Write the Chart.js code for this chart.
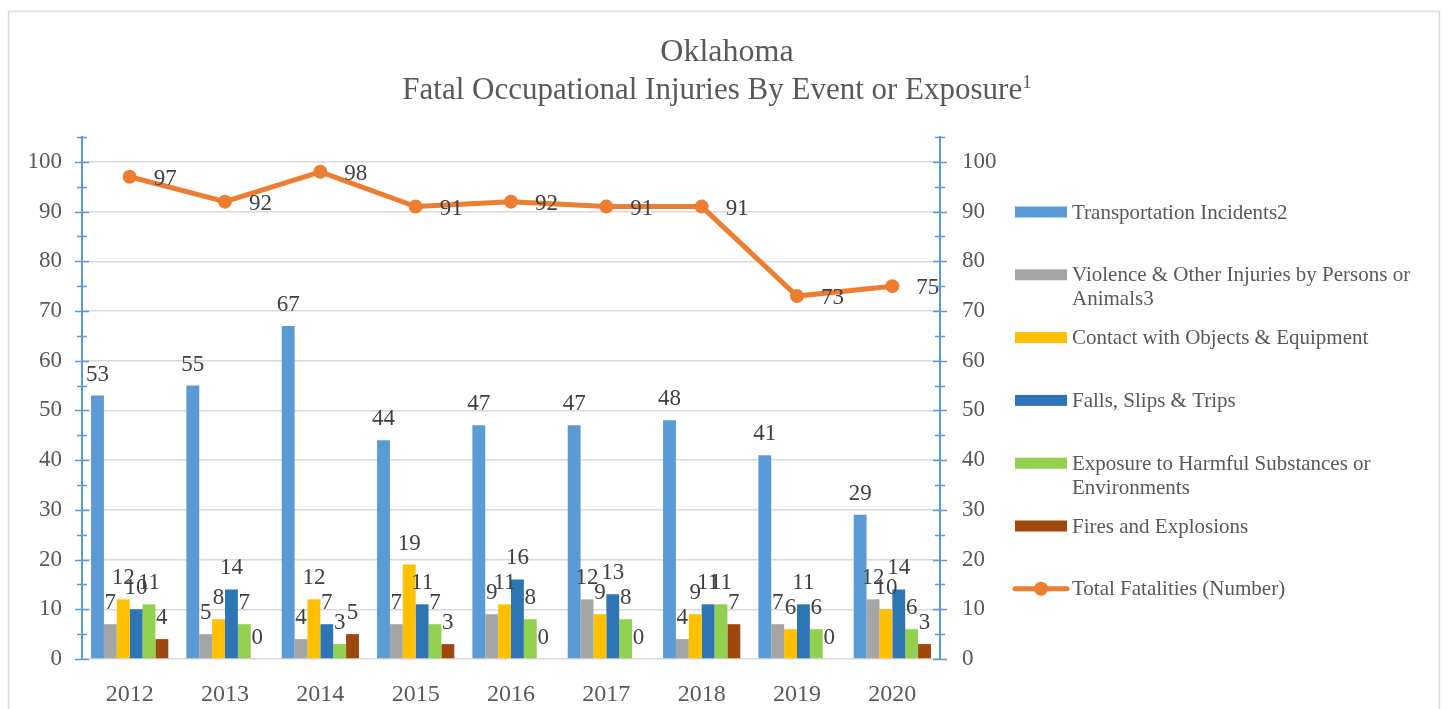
<!DOCTYPE html>
<html>
<head>
<meta charset="utf-8">
<script src="https://cdn.jsdelivr.net/npm/chart.js@4.4.1/dist/chart.umd.min.js"></script>
<style>
  html, body { margin: 0; padding: 0; background: #fff; }
</style>
</head>
<body>
<canvas id="chart" width="1447" height="709"></canvas>
<script>
// Oklahoma fatal occupational injuries, grouped bars + total line

const years = ['2012', '2013', '2014', '2015', '2016', '2017', '2018', '2019', '2020'];

const transportation = [53, 55, 67, 44, 47, 47, 48, 41, 29];
const violence       = [7, 5, 4, 7, 9, 12, 4, 7, 12];
const contact        = [12, 8, 12, 19, 11, 9, 9, 6, 10];
const falls          = [10, 14, 7, 11, 16, 13, 11, 11, 14];
const exposure       = [11, 7, 3, 7, 8, 8, 11, 6, 6];
const fires          = [4, 0, 5, 3, 0, 0, 7, 0, 3];
const totals         = [97, 92, 98, 91, 92, 91, 91, 73, 75];

const seriesNames = [
  'Transportation Incidents2',
  'Violence & Other Injuries by Persons or Animals3',
  'Contact with Objects & Equipment',
  'Falls, Slips & Trips',
  'Exposure to Harmful Substances or Environments',
  'Fires and Explosions',
  'Total Fatalities (Number)'
];
const seriesColors = ['#5b9bd5', '#a5a5a5', '#ffc000', '#2e75b6', '#92d050', '#9e480e', '#ed7d31'];

const titleLines = ['Oklahoma', 'Fatal Occupational Injuries By Event or Exposure'];
const titleSup = '1';

const SERIF = "'Liberation Serif', 'Times New Roman', serif";
const TEXT = '#595959';
const AXIS_BLUE = '#5b9bd5';

const barSeries = [transportation, violence, contact, falls, exposure, fires];

const datasets = barSeries.map((vals, i) => ({
  type: 'bar',
  label: seriesNames[i],
  data: vals,
  backgroundColor: seriesColors[i],
  borderWidth: 0,
  yAxisID: 'y',
  order: 1
}));

datasets.push({
  type: 'line',
  label: seriesNames[6],
  data: totals,
  borderColor: seriesColors[6],
  backgroundColor: seriesColors[6],
  borderWidth: 5,
  pointRadius: 7,
  pointBackgroundColor: seriesColors[6],
  pointBorderWidth: 0,
  yAxisID: 'y1',
  order: 0
});

// wraps legend text to a max width
function wrapText(ctx, text, maxW) {
  const words = text.split(' ');
  const lines = [];
  let cur = '';
  words.forEach(w => {
    const test = cur ? cur + ' ' + w : w;
    if (ctx.measureText(test).width > maxW && cur) {
      lines.push(cur);
      cur = w;
    } else {
      cur = test;
    }
  });
  if (cur) lines.push(cur);
  return lines;
}

const decor = {
  id: 'decor',
  beforeDraw(chart) {
    const ctx = chart.ctx;
    ctx.save();
    ctx.fillStyle = '#fff';
    ctx.fillRect(0, 0, chart.width, chart.height);
    ctx.strokeStyle = '#d9d9d9';
    ctx.lineWidth = 1.5;
    ctx.strokeRect(8.5, 11.5, 1431, 720);
    ctx.restore();
  },
  afterDatasetsDraw(chart) {
    const ctx = chart.ctx;
    ctx.save();
    ctx.font = '23px ' + SERIF;
    ctx.fillStyle = '#404040';
    chart.data.datasets.forEach((ds, di) => {
      const meta = chart.getDatasetMeta(di);
      meta.data.forEach((el, i) => {
        const v = ds.data[i];
        if (ds.type === 'bar') {
          ctx.textAlign = 'center';
          ctx.textBaseline = 'alphabetic';
          ctx.fillText(String(v), el.x, el.y - 15);
        } else {
          ctx.textAlign = 'left';
          ctx.textBaseline = 'middle';
          ctx.fillText(String(v), el.x + 24, el.y + 2);
        }
      });
    });
    ctx.restore();
  },
  afterDraw(chart) {
    const ctx = chart.ctx;
    ctx.save();

    // axis tick marks crossing both vertical axes
    ['y', 'y1'].forEach(id => {
      const sc = chart.scales[id];
      const ax = id === 'y' ? sc.right : sc.left;
      ctx.strokeStyle = AXIS_BLUE;
      ctx.lineWidth = 1.5;
      sc.ticks.forEach(t => {
        const py = Math.round(sc.getPixelForValue(t.value)) + 0.5;
        const len = t.value % 10 === 0 ? 7 : 5;
        ctx.beginPath();
        ctx.moveTo(ax - len, py);
        ctx.lineTo(ax + len, py);
        ctx.stroke();
      });
    });

    // title
    ctx.fillStyle = TEXT;
    ctx.textBaseline = 'middle';
    ctx.textAlign = 'center';
    ctx.font = '32px ' + SERIF;
    ctx.fillText(titleLines[0], 727, 53);
    ctx.font = '31px ' + SERIF;
    const w1 = ctx.measureText(titleLines[1]).width;
    ctx.font = '19px ' + SERIF;
    const w2 = ctx.measureText(titleSup).width;
    const startX = 717 - (w1 + w2) / 2;
    ctx.textAlign = 'left';
    ctx.font = '31px ' + SERIF;
    ctx.fillText(titleLines[1], startX, 91);
    ctx.font = '19px ' + SERIF;
    ctx.fillText(titleSup, startX + w1, 83);

    // legend
    ctx.font = '21px ' + SERIF;
    ctx.textBaseline = 'middle';
    chart.data.datasets.forEach((ds, i) => {
      const y = 212 + i * 62.8;
      if (ds.type === 'bar') {
        ctx.fillStyle = ds.backgroundColor;
        ctx.fillRect(1015, y - 5.5, 52, 11);
      } else {
        ctx.strokeStyle = ds.borderColor;
        ctx.lineWidth = 5;
        ctx.lineCap = 'round';
        ctx.beginPath();
        ctx.moveTo(1015, y);
        ctx.lineTo(1067, y);
        ctx.stroke();
        ctx.fillStyle = ds.borderColor;
        ctx.beginPath();
        ctx.arc(1041, y, 7, 0, Math.PI * 2);
        ctx.fill();
      }
      ctx.fillStyle = TEXT;
      const lines = wrapText(ctx, ds.label, 352);
      lines.forEach((ln, k) => ctx.fillText(ln, 1072, y + 1 + k * 24));
    });

    ctx.restore();
  }
};

const yTicks = {
  stepSize: 5,
  autoSkip: false,
  color: TEXT,
  font: { family: SERIF, size: 23 },
  callback: v => (v % 10 === 0 && v <= 100) ? v : ''
};

new Chart(document.getElementById('chart'), {
  data: { labels: years, datasets: datasets },
  options: {
    responsive: false,
    animation: false,
    layout: { padding: { top: 137, right: 447, left: 0, bottom: 0 } },
    datasets: { bar: { barPercentage: 1, categoryPercentage: 0.81 } },
    plugins: {
      legend: { display: false },
      title: { display: false },
      tooltip: { enabled: false }
    },
    scales: {
      x: {
        grid: { display: false },
        border: { display: false },
        ticks: { color: TEXT, font: { family: SERIF, size: 24 }, padding: 13 },
        afterFit: s => { s.height = 50; }
      },
      y: {
        position: 'left',
        min: 0,
        max: 105,
        ticks: Object.assign({}, yTicks, { padding: 20 }),
        grid: {
          drawTicks: false,
          lineWidth: 1.5,
          color: c => (c.tick && c.tick.value % 10 === 0 && c.tick.value <= 100) ? '#d9d9d9' : 'rgba(0,0,0,0)'
        },
        border: { color: AXIS_BLUE, width: 2 },
        afterFit: s => { s.width = 82; }
      },
      y1: {
        position: 'right',
        min: 0,
        max: 105,
        ticks: Object.assign({}, yTicks, { padding: 22 }),
        grid: { drawTicks: false, drawOnChartArea: false, color: 'rgba(0,0,0,0)' },
        border: { color: AXIS_BLUE, width: 2 },
        afterFit: s => { s.width = 60; }
      }
    }
  },
  plugins: [decor]
});
</script>
</body>
</html>
